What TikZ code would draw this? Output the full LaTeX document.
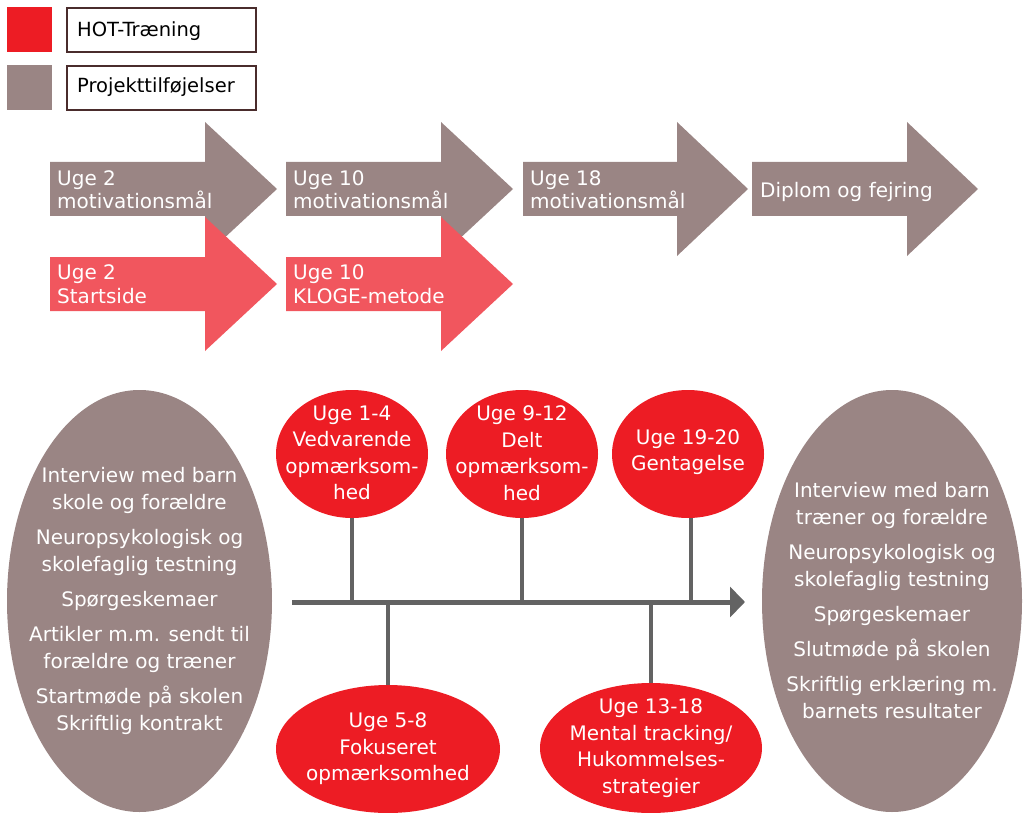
\documentclass[tikz,border=0pt]{standalone}
\usepackage{fontspec}
\setmainfont{DejaVu Sans}
\usetikzlibrary{shapes.geometric,arrows.meta}
\definecolor{hotred}{HTML}{ED1C24}
\definecolor{projgray}{HTML}{9A8584}
\definecolor{arrred}{HTML}{F1565E}
\definecolor{tlgray}{HTML}{636363}
\definecolor{legbrd}{HTML}{4A2C2C}
\newcommand\BigArrowShp[5]{%
  \fill[#1] (#2,#5-27) -- (#3,#5-27) -- (#3,#5-67) -- (#4,#5) -- (#3,#5+67) -- (#3,#5+27) -- (#2,#5+27) -- cycle;}
\tikzset{
  legsq/.style={minimum size=45pt, inner sep=0pt},
  legbox/.style={draw=legbrd, line width=1.1pt, fill=white, minimum width=189pt, minimum height=44pt, inner sep=0pt},
  legtext/.style={anchor=base west, inner sep=0pt, font=\fontsize{19.5}{23}\selectfont},
  arrtext/.style={anchor=base west, align=left, text=white, inner sep=0pt, font=\fontsize{20}{24}\selectfont},
  shapeell/.style={ellipse, inner sep=0pt, outer sep=0pt},
  bigtext/.style={text=white, align=center, inner sep=0pt, font=\fontsize{20}{27}\selectfont},
  redtext/.style={text=white, align=center, inner sep=0pt, font=\fontsize{20}{26.5}\selectfont},
  tlline/.style={draw=tlgray, line width=5pt},
  stem/.style={draw=tlgray, line width=4pt}
}
\begin{document}
\begin{tikzpicture}[x=1pt,y=-1pt]
\useasboundingbox (0,0) rectangle (1025,813);
% legend
\node[legsq, fill=hotred] (sq1) at (29,29.5) {};
\node[legsq, fill=projgray] (sq2) at (29,87.5) {};
\node[legbox] (lb1) at (161.5,30) {};
\node[legbox] (lb2) at (161.5,88) {};
\node[legtext] (lt1) at (77,37) {HOT-Træning};
\node[legtext] (lt2) at (77,93) {Projekttilføjelser};
% top arrows (gray)
\BigArrowShp{projgray}{50}{205}{277}{189}
\BigArrowShp{projgray}{286}{441}{513}{189}
\BigArrowShp{projgray}{523}{677}{748}{189}
\BigArrowShp{projgray}{752}{907}{978}{189}
% red arrows
\BigArrowShp{arrred}{50}{205}{277}{284}
\BigArrowShp{arrred}{286}{441}{513}{284}
\node[arrtext] (t1) at (57,209) {Uge 2\\motivationsmål};
\node[arrtext] (t2) at (293,209) {Uge 10\\motivationsmål};
\node[arrtext] (t3) at (530,209) {Uge 18\\motivationsmål};
\node[arrtext] (t4) at (760,197) {Diplom og fejring};
\node[arrtext] (t5) at (57,303) {Uge 2\\Startside};
\node[arrtext] (t6) at (293,303) {Uge 10\\KLOGE-metode};
% big ellipses
\node[shapeell, fill=projgray, minimum width=265pt, minimum height=422pt] (L) at (139.5,601) {};
\node[bigtext] (Lt) at (L.center) {Interview med barn\\skole og forældre\\[8pt]Neuropsykologisk og\\skolefaglig testning\\[8pt]Spørgeskemaer\\[8pt]Artikler m.m. sendt til\\forældre og træner\\[8pt]Startmøde på skolen\\Skriftlig kontrakt};
\node[shapeell, fill=projgray, minimum width=260pt, minimum height=422pt] (R) at (892,601) {};
\node[bigtext] (Rt) at (R.center) {Interview med barn\\træner og forældre\\[8pt]Neuropsykologisk og\\skolefaglig testning\\[8pt]Spørgeskemaer\\[8pt]Slutmøde på skolen\\[8pt]Skriftlig erklæring m.\\barnets resultater};
% timeline
\coordinate (tl0) at (292,602);
\coordinate (tl1) at (745,602);
% circles
\node[shapeell, fill=hotred, minimum width=152pt, minimum height=128pt] (c1) at (352,454) {};
\node[redtext] (c1t) at ([yshift=1pt]c1.center) {Uge 1-4\\Vedvarende\\opmærksom-\\hed};
\node[shapeell, fill=hotred, minimum width=152pt, minimum height=128pt] (c2) at (522,454) {};
\node[redtext] (c2t) at ([yshift=1pt]c2.center) {Uge 9-12\\Delt\\opmærksom-\\hed};
\node[shapeell, fill=hotred, minimum width=152pt, minimum height=128pt] (c3) at (688,454) {};
\node[redtext] (c3t) at ([yshift=2pt]c3.center) {Uge 19-20\\Gentagelse};
\node[shapeell, fill=hotred, minimum width=224pt, minimum height=128pt] (c4) at (388,749) {};
\node[redtext] (c4t) at (c4.center) {Uge 5-8\\Fokuseret\\opmærksomhed};
\node[shapeell, fill=hotred, minimum width=222pt, minimum height=130pt] (c5) at (651,748) {};
\node[redtext] (c5t) at (c5.center) {Uge 13-18\\Mental tracking/\\Hukommelses-\\strategier};
% stems
\draw[stem] (c1.south) -- (c1.south |- tl0);
\draw[stem] (c2.south) -- (c2.south |- tl0);
\draw[stem] ([xshift=3pt]c3.south) -- ([xshift=3pt]c3.south |- tl0);
\draw[stem] (c4.north) -- (c4.north |- tl0);
\draw[stem] (c5.north) -- (c5.north |- tl0);
\draw[tlline, -{Triangle[length=15pt,width=30pt]}] (tl0) -- (tl1);
\end{tikzpicture}
\end{document}
